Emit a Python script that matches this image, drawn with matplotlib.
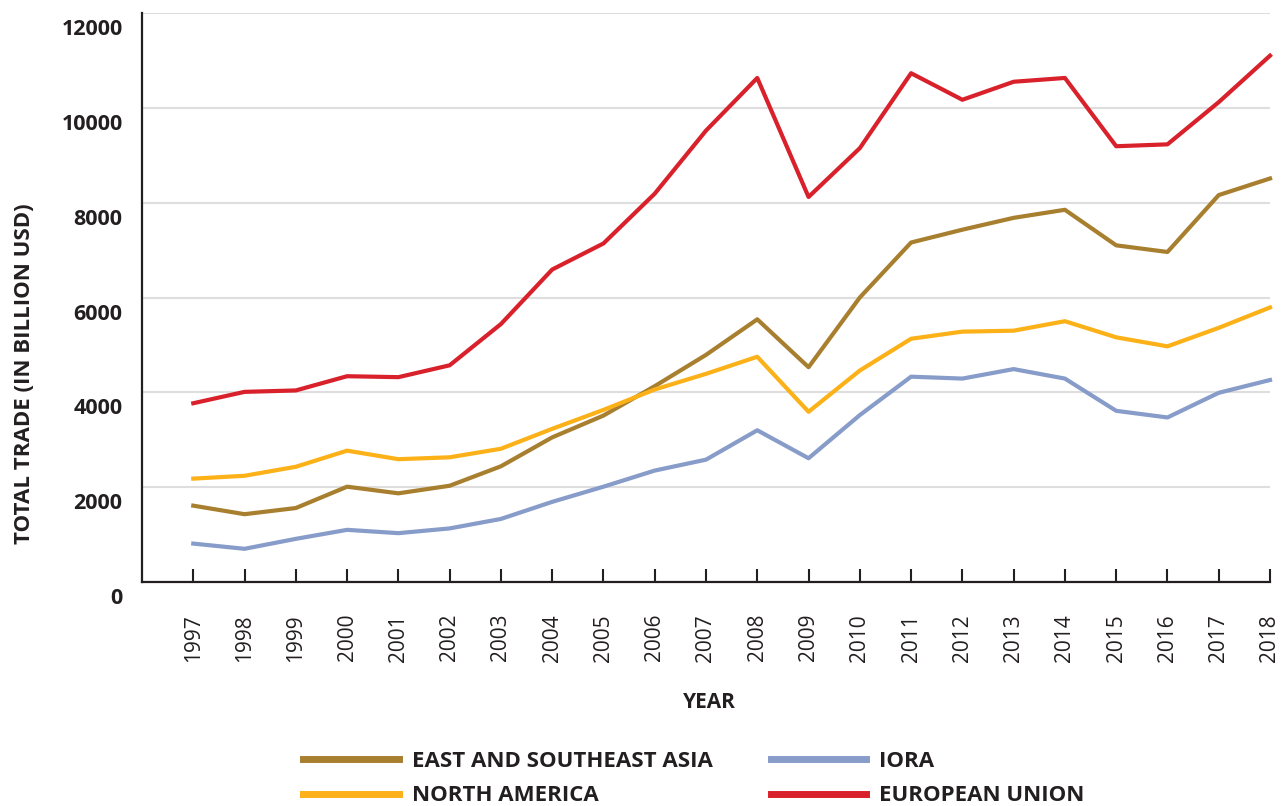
import matplotlib.pyplot as plt
import matplotlib.transforms as transforms

# total trade, billion USD
years = list(range(1997, 2019))
esea = [1610, 1430, 1560, 2010, 1870, 2030, 2440, 3050, 3510, 4130, 4790,
        5540, 4530, 6000, 7160, 7430, 7680, 7850, 7100, 6960, 8160, 8510]
north_america = [2180, 2240, 2430, 2770, 2590, 2630, 2810, 3230, 3630, 4060, 4390,
                 4750, 3590, 4460, 5130, 5280, 5300, 5500, 5160, 4970, 5360, 5790]
iora = [810, 700, 910, 1100, 1030, 1130, 1330, 1690, 2010, 2350, 2580,
        3200, 2610, 3520, 4330, 4290, 4490, 4290, 3610, 3470, 3990, 4260]
eu = [3770, 4010, 4040, 4340, 4320, 4570, 5440, 6590, 7140, 8190, 9520,
      10630, 8120, 9150, 10730, 10170, 10550, 10630, 9190, 9230, 10120, 11100]

series = [("EAST AND SOUTHEAST ASIA", esea, "#a77f2e"),
          ("NORTH AMERICA", north_america, "#fbb117"),
          ("IORA", iora, "#879cc9"),
          ("EUROPEAN UNION", eu, "#d9212b")]

dark = "#231f20"
plt.rcParams['font.family'] = 'Open Sans'

fig = plt.figure(figsize=(12.85, 8.06), dpi=100)
ax = fig.add_axes([142/1285, 1 - 582/806, (1270 - 142)/1285, (582 - 13)/806])

handles = []
for name, vals, col in series:
    ln, = ax.plot(years, vals, color=col, lw=3, label=name, clip_on=False)
    handles.append(ln)

ax.set_xlim(1996, 2018)
ax.set_ylim(0, 12000)
ax.set_xticks(years)
ax.set_yticks(range(0, 12001, 2000))
ax.grid(axis='y', color='#dedede', lw=1.5)
ax.set_axisbelow(True)

for s in ['top', 'right']:
    ax.spines[s].set_visible(False)
for s in ['left', 'bottom']:
    ax.spines[s].set_color(dark)
    ax.spines[s].set_linewidth(1.6)

ax.tick_params(axis='y', length=0, pad=14, labelsize=15.5, labelcolor=dark)
ax.tick_params(axis='x', direction='in', length=9.5, width=1.5, color=dark,
               pad=23, labelsize=15, labelrotation=90, labelcolor=dark)

# y labels sit a bit below their gridlines in the original
offset = transforms.ScaledTranslation(0, -0.14, fig.dpi_scale_trans)
for lab in ax.get_yticklabels():
    lab.set_fontweight('bold')
    lab.set_transform(lab.get_transform() + offset)

fig.text(25/1285, 1 - 374/806, "TOTAL TRADE (IN BILLION USD)", rotation=90,
         ha='center', va='center', fontsize=16, fontweight='bold', color=dark)
fig.text(709/1285, 1 - 702/806, "YEAR", ha='center', va='center',
         fontsize=15, fontweight='bold', color=dark)

leg = fig.legend(handles, [h.get_label() for h in handles], ncol=2,
                 loc='upper left', bbox_to_anchor=(303/1285, 1 - 751/806),
                 frameon=False, prop={'weight': 'bold', 'size': 16},
                 handlelength=4.3, handletextpad=0.6, columnspacing=2.6,
                 labelspacing=0.6, borderpad=0, borderaxespad=0)
for ln in leg.get_lines():
    ln.set_linewidth(5)
for t in leg.get_texts():
    t.set_color(dark)

fig.savefig("out.png", dpi=100)
